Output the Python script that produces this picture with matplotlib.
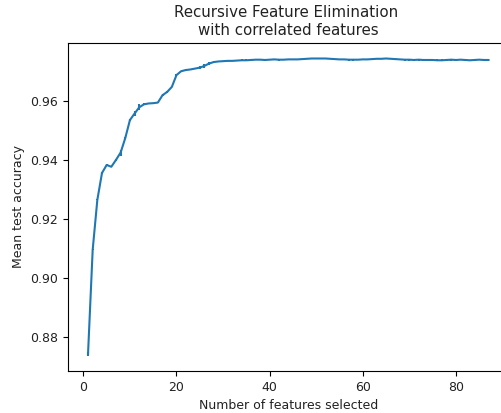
import matplotlib
matplotlib.use("Agg")
import matplotlib.pyplot as plt
import numpy as np

n_features = list(range(1, 88))
mean_test_accuracy = [
    0.8744, 0.9096, 0.9265, 0.9356, 0.9383, 0.9377, 0.9400, 0.9425, 0.9474, 0.9535,
    0.9557, 0.9578, 0.9588, 0.9591, 0.9592, 0.9594, 0.9619, 0.9630, 0.9647, 0.9687,
    0.9700, 0.9704, 0.9706, 0.9709, 0.9712, 0.9718, 0.9726, 0.9731, 0.9733, 0.9734,
    0.9735, 0.9735, 0.9736, 0.9737, 0.9737, 0.9738, 0.9739, 0.9739, 0.9738, 0.9739,
    0.9740, 0.9739, 0.9739, 0.9740, 0.9740, 0.9740, 0.9741, 0.9742, 0.9743, 0.9743,
    0.9743, 0.9743, 0.9742, 0.9741, 0.9740, 0.9740, 0.9739, 0.9739, 0.9739, 0.9740,
    0.9740, 0.9741, 0.9742, 0.9742, 0.9743, 0.9742, 0.9741, 0.9740, 0.9739, 0.9739,
    0.9738, 0.9739, 0.9738, 0.9738, 0.9738, 0.9737, 0.9737, 0.9738, 0.9739, 0.9738,
    0.9739, 0.9738, 0.9737, 0.9738, 0.9739, 0.9738, 0.9738,
]
std_test_accuracy = [
    0.0007, 0.0002, 0.0002, 0.0002, 0.0002, 0.0002, 0.0002, 0.0010, 0.0003, 0.0004,
    0.0008, 0.0010, 0.0003, 0.0002, 0.0002, 0.0002, 0.0003, 0.0002, 0.0002, 0.0002,
    0.0002, 0.0002, 0.0002, 0.0003, 0.0004, 0.0006, 0.0006, 0.0004, 0.0002, 0.0002,
    0.0002, 0.0002, 0.0003, 0.0003, 0.0003, 0.0003, 0.0002, 0.0002, 0.0003, 0.0002,
    0.0002, 0.0003, 0.0002, 0.0002, 0.0003, 0.0003, 0.0002, 0.0002, 0.0002, 0.0002,
    0.0002, 0.0002, 0.0002, 0.0002, 0.0003, 0.0003, 0.0003, 0.0003, 0.0002, 0.0002,
    0.0002, 0.0002, 0.0002, 0.0002, 0.0002, 0.0002, 0.0003, 0.0003, 0.0003, 0.0003,
    0.0002, 0.0003, 0.0002, 0.0002, 0.0002, 0.0003, 0.0003, 0.0002, 0.0003, 0.0002,
    0.0002, 0.0003, 0.0002, 0.0003, 0.0002, 0.0002, 0.0002,
]

plt.rcParams["font.size"] = 9
plt.rcParams["text.color"] = "#222222"
plt.rcParams["axes.labelcolor"] = "#222222"
plt.rcParams["xtick.labelcolor"] = "#222222"
plt.rcParams["ytick.labelcolor"] = "#222222"

W, H = 502, 413
fig = plt.figure(figsize=(W / 100, H / 100), dpi=100)
ax = fig.add_axes([68 / W, (H - 371) / H, (508.5 - 68) / W, (371 - 43) / H])
ax.errorbar(n_features, mean_test_accuracy, yerr=std_test_accuracy)
ax.set_xlabel("Number of features selected")
ax.set_ylabel("Mean test accuracy")
ax.set_title("Recursive Feature Elimination \nwith correlated features")
fig.savefig("out.png", dpi=100)
